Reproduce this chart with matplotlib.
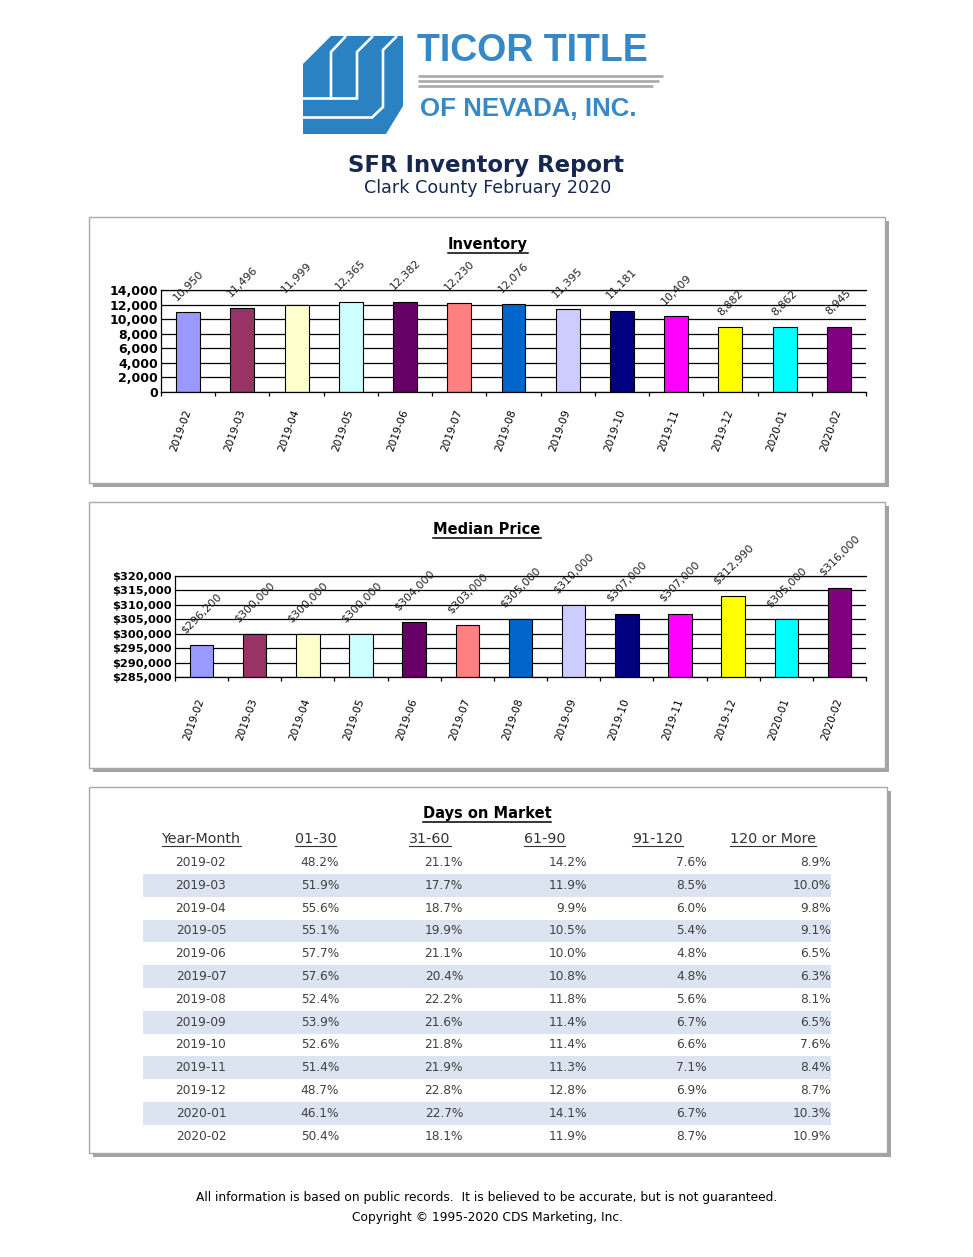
import matplotlib
matplotlib.use('Agg')
import matplotlib.pyplot as plt
from matplotlib.patches import Rectangle, Polygon
import numpy as np

W, H = 973, 1257

months = ['2019-02', '2019-03', '2019-04', '2019-05', '2019-06', '2019-07', '2019-08',
          '2019-09', '2019-10', '2019-11', '2019-12', '2020-01', '2020-02']
inventory = [10950, 11496, 11999, 12365, 12382, 12230, 12076, 11395, 11181, 10409, 8882, 8862, 8945]
median_price = [296200, 300000, 300000, 300000, 304000, 303000, 305000, 310000, 307000, 307000,
                312990, 305000, 316000]
bar_colors = ['#9999FF', '#993366', '#FFFFCC', '#CCFFFF', '#660066', '#FF8080', '#0066CC',
              '#CCCCFF', '#000080', '#FF00FF', '#FFFF00', '#00FFFF', '#800080']

dom_headers = ['Year-Month', '01-30', '31-60', '61-90', '91-120', '120 or More']
dom_0130 = [48.2, 51.9, 55.6, 55.1, 57.7, 57.6, 52.4, 53.9, 52.6, 51.4, 48.7, 46.1, 50.4]
dom_3160 = [21.1, 17.7, 18.7, 19.9, 21.1, 20.4, 22.2, 21.6, 21.8, 21.9, 22.8, 22.7, 18.1]
dom_6190 = [14.2, 11.9, 9.9, 10.5, 10.0, 10.8, 11.8, 11.4, 11.4, 11.3, 12.8, 14.1, 11.9]
dom_91120 = [7.6, 8.5, 6.0, 5.4, 4.8, 4.8, 5.6, 6.7, 6.6, 7.1, 6.9, 6.7, 8.7]
dom_120plus = [8.9, 10.0, 9.8, 9.1, 6.5, 6.3, 8.1, 6.5, 7.6, 8.4, 8.7, 10.3, 10.9]

navy = '#162850'
logo_blue = '#2b82c2'

fig = plt.figure(figsize=(W / 100, H / 100), dpi=100)
fig.patch.set_facecolor('white')

# background axes in pixel coordinates (y down)
bg = fig.add_axes([0, 0, 1, 1])
bg.set_xlim(0, W)
bg.set_ylim(H, 0)
bg.axis('off')


def px_axes(x0, y0, x1, y1):
    ax = fig.add_axes([x0 / W, 1 - y1 / H, (x1 - x0) / W, (y1 - y0) / H])
    ax.set_facecolor('none')
    return ax


def panel(x0, y0, x1, y1):
    bg.add_patch(Rectangle((x0 + 4, y0 + 4), x1 - x0, y1 - y0, fc='#A3A3A3', ec='none'))
    bg.add_patch(Rectangle((x0, y0), x1 - x0, y1 - y0, fc='white', ec='#A8A8A8', lw=1.0))


# ---- logo ----
bg.add_patch(Polygon([(303, 64), (331, 36), (403, 36), (403, 106), (386, 134), (303, 134)],
                     closed=True, fc=logo_blue, ec='none'))
for path in [[(396, 37), (383, 50), (383, 107), (372, 117.5), (303, 117.5)],
             [(372, 37), (357, 52), (357, 98.5), (303, 98.5)],
             [(345, 37), (331, 52), (331, 98.5)]]:
    xs, ys = zip(*path)
    bg.plot(xs, ys, color='white', lw=1.9, solid_joinstyle='miter')
bg.text(417, 61, 'TICOR TITLE', fontsize=27, fontweight='bold', color='#3689c6',
        family='Liberation Sans', ha='left', va='baseline')
for yy, xr in [(75.5, 663), (80.5, 659), (85.5, 653)]:
    bg.plot([418, xr], [yy, yy], color='#A9A9A9', lw=1.9, solid_capstyle='butt')
bg.text(420, 116, 'OF NEVADA, INC.', fontsize=18.6, fontweight='bold', color='#3689c6',
        family='Liberation Sans', ha='left', va='baseline')

bg.text(486, 172, 'SFR Inventory Report', fontsize=16.4, fontweight='bold', color=navy,
        ha='center', va='baseline')
bg.text(488, 193, 'Clark County February 2020', fontsize=12.6, color=navy,
        ha='center', va='baseline')

# ---- panels ----
panel(89, 217, 885, 483)
panel(89, 502, 885, 768)
panel(89, 787, 887, 1153)

titles = []
titles.append(bg.text(488, 249, 'Inventory', fontsize=10.5, fontweight='bold', color='black',
                      ha='center', va='baseline'))
titles.append(bg.text(487, 534, 'Median Price', fontsize=10.5, fontweight='bold', color='black',
                      ha='center', va='baseline'))
titles.append(bg.text(487, 818, 'Days on Market', fontsize=10.5, fontweight='bold', color='black',
                      ha='center', va='baseline'))
title_ul = [252.5, 537.5, 821.5]


def bar_chart(ax, values, ymin, ymax, step, fmt, ysize, xpad):
    x = np.arange(len(values))
    ax.set_axisbelow(True)
    ax.bar(x, values, width=0.44, color=bar_colors, edgecolor='black', linewidth=0.8)
    ax.set_xlim(-0.5, len(values) - 0.5)
    ax.set_ylim(ymin, ymax)
    ax.set_yticks(np.arange(ymin, ymax + 1, step))
    ax.set_yticklabels([fmt(v) for v in np.arange(ymin, ymax + 1, step)],
                       fontweight='bold', fontsize=ysize)
    ax.yaxis.grid(True, color='black', lw=0.9)
    ax.tick_params(axis='y', length=0, pad=2)
    ax.spines['right'].set_visible(False)
    for s in ['left', 'bottom', 'top']:
        ax.spines[s].set_color('black')
        ax.spines[s].set_linewidth(0.9)
    ax.set_xticks(np.arange(-0.5, len(values), 1.0))
    ax.set_xticks(x, months, minor=True)
    ax.tick_params(axis='x', which='major', length=3, width=0.9, direction='out',
                   labelbottom=False)
    ax.tick_params(axis='x', which='minor', length=0, pad=xpad, labelsize=7.6)
    for lab in ax.get_xticklabels(minor=True):
        lab.set_rotation(70)
        lab.set_ha('right')
        lab.set_va('center')
        lab.set_rotation_mode('anchor')
    for i, v in enumerate(values):
        ax.annotate(fmt(v), (i, v), xytext=(0, 7), textcoords='offset points',
                    rotation=45, ha='center', va='bottom', fontsize=7.9, color='#222222')


ax1 = px_axes(161, 290, 866, 392)
bar_chart(ax1, inventory, 0, 14000, 2000, lambda v: f'{int(v):,}', 9, 13)

ax2 = px_axes(175, 576, 866, 677)
bar_chart(ax2, median_price, 285000, 320000, 5000, lambda v: f'${int(v):,}', 8.2, 16)

# ---- days on market table ----
row_y0 = 862.5
row_h = 22.8
for i in range(len(months)):
    if i % 2 == 1:
        bg.add_patch(Rectangle((143, row_y0 + i * row_h - row_h / 2), 831 - 143, row_h,
                               fc='#DBE4F0', ec='none'))

head_x = [201, 315.5, 430, 544.5, 657.5, 773]
headers = []
for hx, htxt in zip(head_x, dom_headers):
    headers.append(bg.text(hx, 843, htxt, fontsize=10.3, color='#333333',
                           ha='center', va='baseline'))

cols = [dom_0130, dom_3160, dom_6190, dom_91120, dom_120plus]
col_right = [339, 463, 587, 707, 831]
for i, m in enumerate(months):
    yy = row_y0 + i * row_h
    bg.text(201, yy, m, fontsize=8.7, color='#404040', ha='center', va='center')
    for col, xr in zip(cols, col_right):
        bg.text(xr, yy, f'{col[i]:.1f}%', fontsize=8.7, color='#404040',
                ha='right', va='center')

# ---- footer ----
bg.text(487, 1201, 'All information is based on public records.  It is believed to be accurate, '
        'but is not guaranteed.', fontsize=8.8, color='black', ha='center', va='baseline')
bg.text(487, 1221, 'Copyright \u00a9 1995-2020 CDS Marketing, Inc.', fontsize=8.8,
        color='black', ha='center', va='baseline')

# underlines
renderer = fig.canvas.get_renderer()
for t, yy in zip(titles, title_ul):
    bb = t.get_window_extent(renderer)
    bg.plot([bb.x0, bb.x1], [yy, yy], color='black', lw=1.1)
for t in headers:
    bb = t.get_window_extent(renderer)
    bg.plot([bb.x0, bb.x1], [846, 846], color='#333333', lw=0.8)

fig.savefig('out.png', dpi=100)
